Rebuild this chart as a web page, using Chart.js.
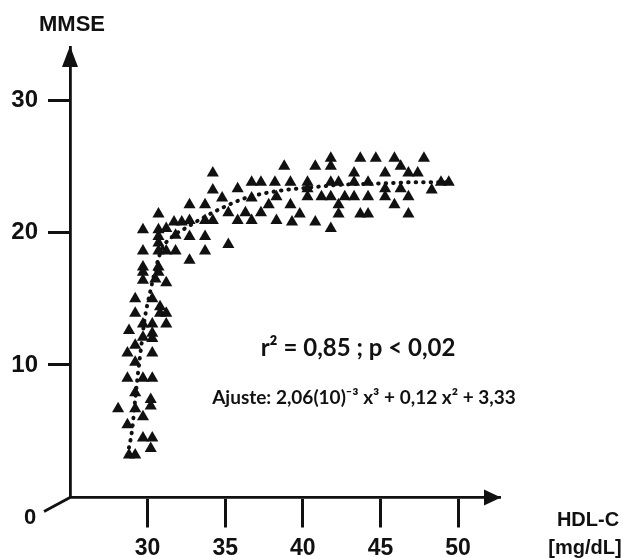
<!DOCTYPE html>
<html>
<head>
<meta charset="utf-8">
<script src="https://cdn.jsdelivr.net/npm/chart.js@4.4.1/dist/chart.umd.min.js"></script>
<style>
  html, body { margin: 0; padding: 0; background: #fff; }
  #wrap { width: 627px; height: 558px; }
</style>
</head>
<body>
<div id="wrap"><canvas id="mmseChart"></canvas></div>
<script>
// HDL-C (mg/dL) vs MMSE, one entry per patient
const hdl = [
  30.7, 31.7, 32.2, 29.7, 30.7, 31.2, 31.8, 30.7, 30.7, 29.7, 30.7, 31.2, 31.8,
  29.7, 29.7, 29.7, 30.7, 30.7, 30.5, 31.2, 30.3, 29.2, 30.8, 30.8, 31.2, 29.2,
  28.8, 29.7, 30.3, 31.2, 30.3, 29.7, 30.3, 29.2, 28.7, 30.3, 29.2, 28.7, 29.7,
  30.3, 29.2, 28.1, 29.2, 30.2, 30.2, 29.7, 28.7, 29.7, 30.3, 30.2, 28.8, 29.2,
  34.2, 34.2, 35.8, 36.7, 37.3, 38.2, 34.8, 32.7, 33.7, 36.7, 37.8, 38.3, 35.2,
  36.3, 37.3, 32.7, 33.7, 34.2, 35.8, 36.7, 38.3, 32.7, 33.7, 33.7, 35.2, 32.7,
  38.8, 40.8, 41.8, 41.8, 43.7, 44.7, 43.3, 39.2, 40.3, 41.8, 42.3, 43.3, 44.2,
  40.3, 40.3, 41.2, 41.8, 42.7, 43.3, 44.2, 39.2, 42.3, 39.8, 42.3, 39.3, 40.8,
  43.7, 44.2, 41.8,
  45.9, 47.8, 46.3, 45.3, 46.8, 47.4, 48.9, 49.4, 45.3, 46.3, 48.3, 45.3, 46.8,
  45.9, 46.8
];
const mmse = [
  21.4, 20.8, 20.8, 20.2, 20.2, 20.3, 19.8, 19.7, 19.2, 18.6, 18.6, 18.6, 18.6,
  17.4, 17.0, 16.4, 17.4, 17.0, 16.5, 16.2, 15.0, 15.0, 14.4, 13.9, 13.9, 13.9,
  12.6, 13.1, 13.1, 13.1, 12.4, 12.1, 12.0, 11.5, 10.9, 10.9, 10.2, 9.0, 9.0,
  9.0, 7.9, 6.7, 6.7, 6.9, 7.4, 6.1, 5.5, 4.5, 4.5, 3.7, 3.2, 3.2,
  24.5, 23.2, 23.3, 23.8, 23.8, 23.8, 22.6, 22.1, 22.1, 22.6, 22.1, 22.7, 21.5,
  21.5, 21.5, 20.9, 20.9, 20.9, 20.9, 20.9, 20.9, 19.7, 19.7, 18.6, 19.1, 17.9,
  25.0, 25.0, 25.6, 25.0, 25.6, 25.6, 24.5, 23.8, 23.8, 23.8, 23.8, 23.8, 23.8,
  23.3, 22.7, 22.7, 22.7, 22.7, 22.7, 22.7, 22.1, 22.1, 21.4, 21.4, 20.8, 20.8,
  21.4, 21.4, 20.3,
  25.6, 25.6, 25.0, 24.5, 24.5, 24.5, 23.8, 23.8, 23.3, 23.3, 23.2, 22.7, 22.7,
  22.1, 21.4
];

// dotted fitted curve
const fitHdl = [28.7, 29.0, 29.2, 29.4, 29.6, 29.8, 30.2, 30.5, 30.9, 31.6, 32.4, 33.4, 34.7, 36.3, 38.2, 40.5, 42.4, 45.0, 47.6, 49.5];
const fitMmse = [3.2, 5.1, 7.4, 9.6, 11.5, 13.4, 15.7, 17.2, 18.7, 19.7, 20.3, 21.0, 21.8, 22.6, 23.1, 23.4, 23.6, 23.7, 23.8, 23.8];

const xTicks = [30, 35, 40, 45, 50];
const yTicks = [10, 20, 30];

const ink = "#111";
const axisFont = "Liberation Sans";
const noteFont = "Lato";

// arrows, axis names and the fit notes
const decorations = {
  id: "decorations",
  afterDraw(chart) {
    const { ctx, chartArea: a } = chart;
    ctx.save();
    ctx.fillStyle = ink;
    ctx.strokeStyle = ink;
    ctx.lineWidth = 2.8;

    // arrow heads
    ctx.beginPath();
    ctx.moveTo(a.right + 1, a.bottom);
    ctx.lineTo(a.right - 16, a.bottom - 8);
    ctx.lineTo(a.right - 16, a.bottom + 8);
    ctx.closePath();
    ctx.fill();

    ctx.beginPath();
    ctx.moveTo(a.left, a.top - 1);
    ctx.lineTo(a.left - 8, a.top + 20);
    ctx.lineTo(a.left + 8, a.top + 20);
    ctx.closePath();
    ctx.fill();

    // small slanted stroke to the zero
    ctx.beginPath();
    ctx.moveTo(a.left, a.bottom);
    ctx.lineTo(a.left - 26, a.bottom + 14);
    ctx.stroke();

    ctx.textAlign = "center";
    ctx.textBaseline = "middle";
    ctx.font = "bold 22px '" + axisFont + "'";
    ctx.fillText("0", 30, 518);
    ctx.fillText("MMSE", 72, 25);
    ctx.font = "bold 20px '" + axisFont + "'";
    ctx.fillText("HDL-C", 588, 520);
    ctx.fillText("[mg/dL]", 585, 548);

    ctx.font = "bold 24px '" + noteFont + "'";
    ctx.fillText("r\u00B2 = 0,85 ; p < 0,02", 358, 348);
    ctx.font = "bold 19px '" + noteFont + "'";
    ctx.fillText("Ajuste: 2,06(10)\u207B\u00B3 x\u00B3 + 0,12 x\u00B2 + 3,33", 364, 398);
    ctx.restore();
  },
};

const ctx = document.getElementById("mmseChart").getContext("2d");
new Chart(ctx, {
  type: "scatter",
  data: {
    datasets: [
      {
        type: "line",
        label: "Ajuste",
        data: fitHdl.map((x, i) => ({ x: x, y: fitMmse[i] })),
        borderColor: ink,
        borderWidth: 4,
        borderDash: [0.5, 7],
        borderCapStyle: "round",
        cubicInterpolationMode: "monotone",
        pointRadius: 0,
        fill: false,
      },
      {
        label: "MMSE",
        data: hdl.map((x, i) => ({ x: x, y: mmse[i] })),
        pointStyle: "triangle",
        pointRadius: 7,
        backgroundColor: ink,
        borderWidth: 0,
      },
    ],
  },
  options: {
    responsive: true,
    maintainAspectRatio: false,
    animation: false,
    layout: { padding: { top: 47, right: 127, left: 0, bottom: 0 } },
    plugins: { legend: { display: false }, tooltip: { enabled: false } },
    scales: {
      x: {
        type: "linear",
        min: 25,
        max: 52.7,
        afterBuildTicks: (s) => { s.ticks = xTicks.map((v) => ({ value: v })); },
        afterFit: (s) => { s.height = 60.5; },
        grid: { drawOnChartArea: false, drawTicks: true, tickLength: 30, tickWidth: 3, tickColor: ink },
        border: { color: ink, width: 2.8 },
        ticks: { color: ink, padding: 7, maxRotation: 0, autoSkip: false, font: { family: axisFont, size: 23, weight: "bold" } },
      },
      y: {
        min: 0,
        max: 34,
        afterBuildTicks: (s) => { s.ticks = yTicks.map((v) => ({ value: v })); },
        afterFit: (s) => { s.width = 70; },
        grid: { drawOnChartArea: false, drawTicks: true, tickLength: 22, tickWidth: 3, tickColor: ink },
        border: { color: ink, width: 2.8 },
        ticks: { color: ink, padding: 10, font: { family: axisFont, size: 24, weight: "bold" } },
      },
    },
  },
  plugins: [decorations],
});
</script>
</body>
</html>
